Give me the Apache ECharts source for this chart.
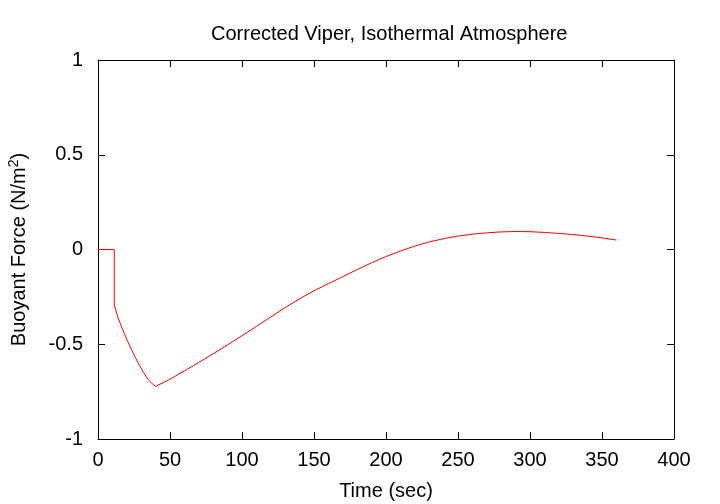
<!DOCTYPE html>
<html>
<head>
<meta charset="utf-8">
<script src="https://cdn.jsdelivr.net/npm/echarts@6/dist/echarts.min.js"></script>
<style>html,body{margin:0;padding:0;background:#fff}#c{width:720px;height:504px}</style>
</head>
<body>
<div id="c"></div>
<script>
const times = [0, 11.3, 11.3, 14, 17, 20, 23, 26, 29, 32, 35, 38, 40, 50, 60, 70, 80, 90, 100, 110, 120, 130, 140, 150, 160, 170, 180, 190, 200, 210, 220, 230, 240, 250, 260, 270, 280, 290, 300, 310, 320, 330, 340, 350, 360];
const force = [0, 0, -0.293, -0.362, -0.420, -0.474, -0.524, -0.571, -0.614, -0.653, -0.688, -0.710, -0.723, -0.684, -0.641, -0.596, -0.550, -0.503, -0.455, -0.406, -0.356, -0.306, -0.260, -0.218, -0.180, -0.143, -0.106, -0.070, -0.037, -0.008, 0.018, 0.040, 0.057, 0.071, 0.081, 0.088, 0.093, 0.095, 0.094, 0.090, 0.085, 0.079, 0.071, 0.061, 0.050];
const xTicks = [0, 50, 100, 150, 200, 250, 300, 350, 400];
const yTicks = [-1, -0.5, 0, 0.5, 1];

const chart = echarts.init(document.getElementById('c'), null, {renderer: 'canvas'});
const font = 'Liberation Sans, Arial, Helvetica, sans-serif';
const base = {
  axisLine: {show: true, onZero: false, lineStyle: {color: '#000', width: 1}},
  axisTick: {show: true, inside: true, length: 7, lineStyle: {color: '#000'}},
  splitLine: {show: false}
};
chart.setOption({
  animation: false,
  backgroundColor: '#fff',
  title: {
    text: 'Corrected Viper, Isothermal Atmosphere',
    left: 206, top: 19,
    textStyle: {fontFamily: font, fontWeight: 'normal', fontSize: 20, color: '#000'}
  },
  grid: {left: 98, right: 46, top: 60, bottom: 65, show: false, containLabel: false, outerBoundsMode: 'none'},
  xAxis: [
    Object.assign({}, base, {
      type: 'value', position: 'bottom', min: xTicks[0], max: xTicks[xTicks.length - 1], interval: 50,
      name: 'Time (sec)', nameLocation: 'middle', nameGap: 42,
      nameTextStyle: {fontFamily: font, fontSize: 20, color: '#000'},
      axisLabel: {fontFamily: font, fontSize: 20, color: '#000', margin: 11}
    }),
    Object.assign({}, base, {
      type: 'value', position: 'top', min: xTicks[0], max: xTicks[xTicks.length - 1], interval: 50,
      axisLabel: {show: false}
    })
  ],
  yAxis: [
    Object.assign({}, base, {
      type: 'value', position: 'left', min: yTicks[0], max: yTicks[yTicks.length - 1], interval: 0.5,
      name: 'Buoyant Force (N/m{sup|2})', nameLocation: 'middle', nameGap: 67, nameRotate: 90,
      nameTextStyle: {fontFamily: font, fontSize: 20, color: '#000', lineHeight: 24,
        rich: {sup: {fontFamily: font, fontSize: 14, color: '#000', verticalAlign: 'top', lineHeight: 24}}},
      axisLabel: {fontFamily: font, fontSize: 20, color: '#000', margin: 15}
    }),
    Object.assign({}, base, {
      type: 'value', position: 'right', min: yTicks[0], max: yTicks[yTicks.length - 1], interval: 0.5,
      axisLabel: {show: false}
    })
  ],
  series: [{
    type: 'line',
    data: times.map((t, i) => [t, force[i]]),
    showSymbol: false,
    lineStyle: {color: '#ff0000', width: 1},
    itemStyle: {color: '#ff0000'},
    smooth: false
  }]
});
</script>
</body>
</html>
